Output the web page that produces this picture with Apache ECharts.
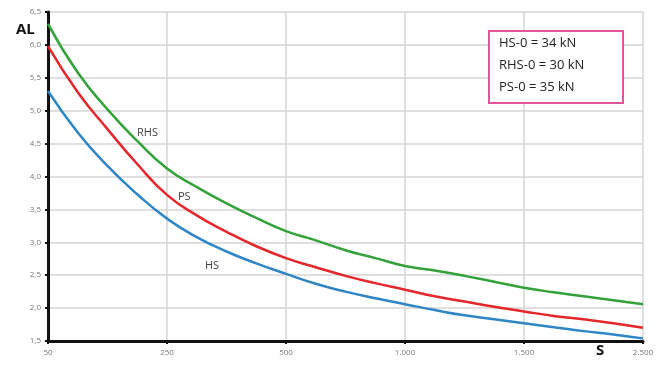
<!DOCTYPE html>
<html><head><meta charset="utf-8">
<script src="https://cdn.jsdelivr.net/npm/echarts@6/dist/echarts.min.js"></script>
<style>html,body{margin:0;padding:0;background:#fff}#c{width:666px;height:365px}</style>
</head><body><div id="c"></div>
<script>
// S categories (5 points per segment of the non-linear axis)
const categories = [50,100,150,200,250, 313,375,438,500, 625,750,875,1000, 1125,1250,1375,1500, 1750,2000,2250,2500];
const tickLabels = ['50','250','500','1.000','1.500','2.500'];
const hsValues  = [5.30,4.67,4.16,3.73,3.36, 3.08,2.86,2.68,2.52, 2.37,2.25,2.15,2.06, 1.97,1.89,1.83,1.77, 1.71,1.65,1.60,1.54];
const psValues  = [5.98,5.28,4.72,4.19,3.72, 3.41,3.16,2.94,2.76, 2.62,2.49,2.38,2.28, 2.18,2.10,2.02,1.95, 1.88,1.83,1.77,1.70];
const rhsValues = [6.32,5.58,5.02,4.54,4.12, 3.84,3.59,3.37,3.17, 3.03,2.88,2.76,2.64, 2.57,2.49,2.40,2.31, 2.24,2.18,2.12,2.06];
const legendLines = ['HS-0 = 34 kN','RHS-0 = 30 kN','PS-0 = 35 kN'];

const isMain = (i) => i % 4 === 0;
const chart = echarts.init(document.getElementById('c'));
const lineSeries = (name, data, color) => ({
  name, type:'line', data, smooth:0.5, symbol:'none',
  lineStyle:{color, width:2.5}, z:5
});
chart.setOption({
  animation:false,
  grid:{left:48, right:23, top:12, bottom:24},
  xAxis:{
    type:'category', data:categories, boundaryGap:false,
    axisLine:{lineStyle:{color:'#111', width:3}},
    axisTick:{show:true, interval:(i)=>isMain(i), length:3, inside:false, lineStyle:{color:'#111', width:2}},
    axisLabel:{interval:(i)=>isMain(i), formatter:(v,i)=>tickLabels[i/4], color:'#777', fontSize:8, fontFamily:'Open Sans', margin:8},
    splitLine:{show:true, interval:(i)=>isMain(i), lineStyle:{color:'#d4d4d4', width:1.5}}
  },
  yAxis:{
    type:'value', min:1.5, max:6.5, interval:0.5,
    axisLine:{show:true, lineStyle:{color:'#111', width:3}},
    axisTick:{show:true, length:3, lineStyle:{color:'#111', width:2}},
    axisLabel:{formatter:(v)=>v.toFixed(1).replace('.',','), color:'#777', fontSize:8, fontFamily:'Open Sans', margin:7},
    splitLine:{show:true, lineStyle:{color:'#d4d4d4', width:1.5}}
  },
  series:[
    lineSeries('HS', hsValues, '#2f86c6'),
    lineSeries('PS', psValues, '#e5262b'),
    lineSeries('RHS', rhsValues, '#33a23a')
  ],
  graphic:[
    {type:'text', left:16, top:22, style:{text:'AL', font:'bold 15px "Open Sans"', fill:'#111'}},
    {type:'text', left:596, top:343, style:{text:'S', font:'bold 15px "Open Sans"', fill:'#111'}},
    {type:'text', left:137, top:127, style:{text:'RHS', font:'11px "Open Sans"', fill:'#444'}},
    {type:'text', left:178, top:191, style:{text:'PS', font:'11px "Open Sans"', fill:'#444'}},
    {type:'text', left:205, top:260, style:{text:'HS', font:'11px "Open Sans"', fill:'#444'}},
    {type:'rect', shape:{x:489, y:31, width:134, height:72}, style:{fill:'#fff', stroke:'#e0559c', lineWidth:2}, z:10},
    {type:'text', left:499, top:37, z:11, style:{text:legendLines[0], font:'13px "Open Sans"', fill:'#222'}},
    {type:'text', left:499, top:59, z:11, style:{text:legendLines[1], font:'13px "Open Sans"', fill:'#222'}},
    {type:'text', left:499, top:81, z:11, style:{text:legendLines[2], font:'13px "Open Sans"', fill:'#222'}}
  ]
});
</script></body></html>
